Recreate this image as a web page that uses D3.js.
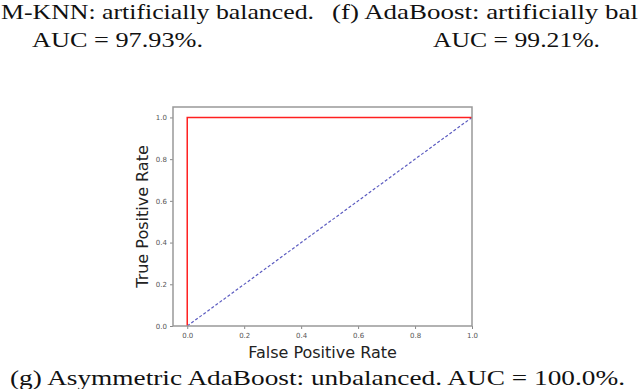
<!DOCTYPE html>
<html>
<head>
<meta charset="utf-8">
<script src="https://cdn.jsdelivr.net/npm/d3@7"></script>
<style>
  body { margin: 0; background: #fff; }
  svg { display: block; }
</style>
</head>
<body>
<svg id="chart" width="640" height="389"></svg>
<script>
// ROC curve points (fpr, tpr)
var rocFpr = [0.0, 0.0, 1.0];
var rocTpr = [0.0, 1.0, 1.0];
// chance diagonal
var diagX = [0.0, 1.0];
var diagY = [0.0, 1.0];
var tickValues = [0.0, 0.2, 0.4, 0.6, 0.8, 1.0];

var svg = d3.select("#chart");

var box = { left: 173, right: 472, top: 107, bottom: 326 };

var xScale = d3.scaleLinear().domain([-0.05, 1.0]).range([box.left, box.right]);
var yScale = d3.scaleLinear().domain([0, 1.05]).range([box.bottom, box.top]);

// captions (LaTeX style serif)
var serif = "'Liberation Serif', 'DejaVu Serif', serif";
function caption(txt, x, y, len, size) {
    svg.append("text")
        .attr("x", x).attr("y", y)
        .attr("textLength", len)
        .attr("lengthAdjust", "spacingAndGlyphs")
        .style("font-family", serif)
        .style("font-size", (size || 22) + "px")
        .style("fill", "#111")
        .text(txt);
}
caption("M-KNN: artificially balanced.", 1, 19, 313, 21);
caption("(f) AdaBoost: artificially bal", 332, 19, 306, 21);
caption("AUC = 97.93%.", 32, 47, 171);
caption("AUC = 99.21%.", 433, 47, 167);
caption("(g) Asymmetric AdaBoost: unbalanced. AUC = 100.0%.", 10, 385, 615);

// axes
var xAxis = svg.append("g")
    .attr("class", "x axis")
    .attr("transform", "translate(0," + box.bottom + ")")
    .call(d3.axisBottom(xScale).tickValues(tickValues).tickFormat(d3.format(".1f")).tickSize(3).tickSizeOuter(0));

var yAxis = svg.append("g")
    .attr("class", "y axis")
    .attr("transform", "translate(" + box.left + ",0)")
    .call(d3.axisLeft(yScale).tickValues(tickValues).tickFormat(d3.format(".1f")).tickSize(3).tickSizeOuter(0));

svg.selectAll(".axis .domain").remove();
svg.selectAll(".axis line").attr("stroke", "#888").attr("stroke-width", 1);
svg.selectAll(".axis text")
    .style("font-family", "'DejaVu Sans', sans-serif")
    .style("font-size", "7px")
    .attr("fill", "#555");
xAxis.selectAll("text").attr("dy", "0.9em");

// diagonal
var line = d3.line()
    .x(function (d) { return xScale(d[0]); })
    .y(function (d) { return yScale(d[1]); });

svg.append("path")
    .datum(d3.zip(diagX, diagY))
    .attr("d", line)
    .attr("fill", "none")
    .attr("stroke", "#5b5bc0")
    .attr("stroke-width", 1.2)
    .attr("stroke-dasharray", "3,2");

// ROC curve
svg.append("path")
    .datum(d3.zip(rocFpr, rocTpr))
    .attr("d", line)
    .attr("fill", "none")
    .attr("stroke", "#ff2020")
    .attr("stroke-width", 1.5);

// frame
svg.append("rect")
    .attr("x", box.left).attr("y", box.top)
    .attr("width", box.right - box.left)
    .attr("height", box.bottom - box.top)
    .attr("fill", "none")
    .attr("stroke", "#999")
    .attr("stroke-width", 1.5);

// axis labels
svg.append("text")
    .attr("x", (box.left + box.right) / 2)
    .attr("y", 358)
    .attr("text-anchor", "middle")
    .style("font-family", "'DejaVu Sans', sans-serif")
    .style("font-size", "16px")
    .style("fill", "#222")
    .text("False Positive Rate");

svg.append("text")
    .attr("transform", "translate(148," + (box.top + box.bottom) / 2 + ") rotate(-90)")
    .attr("text-anchor", "middle")
    .style("font-family", "'DejaVu Sans', sans-serif")
    .style("font-size", "16px")
    .style("fill", "#222")
    .text("True Positive Rate");
</script>
</body>
</html>
